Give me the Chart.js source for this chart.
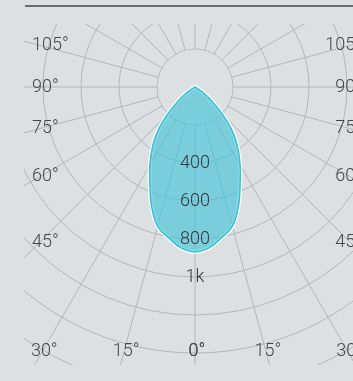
<!DOCTYPE html>
<html>
<head>
<meta charset="utf-8">
<script src="https://cdn.jsdelivr.net/npm/chart.js@4.4.1/dist/chart.umd.min.js"></script>
<style>
    html, body { margin: 0; padding: 0; background: #dde0e3; }
    body { width: 353px; height: 381px; position: relative; overflow: hidden; }
    .rule { position: absolute; left: 25px; top: 5px; width: 328px; height: 2px; background: #6c6d6f; }
    .plot { position: absolute; left: 24px; top: 24px; width: 342px; height: 341px; overflow: hidden; }
    .plot canvas { position: absolute; left: -171px; top: -279px; }
</style>
</head>
<body>
<div class="rule"></div>
<div class="plot"><canvas id="polarChart" width="684" height="684"></canvas></div>
<script>
// gamma angles (deg from nadir) and luminous intensity (cd), curve is symmetric
const gammaAngles = [0, 5, 10, 15, 20, 25, 30, 35, 40, 45, 50, 55, 60, 65, 70, 75, 80, 85, 90,
    95, 100, 105, 110, 115, 120, 125, 130, 135, 140, 145, 150, 155, 160, 165, 170, 175, 180];
const intensity = [868, 850, 805, 760, 668, 562, 475, 392, 308, 205, 115, 60, 12, 0, 0, 0, 0, 0, 0,
    0, 0, 0, 0, 0, 0, 0, 0, 0, 0, 0, 0, 0, 0, 0, 0, 0, 0];

// rings and their labels
const ringLabelValues = [400, 600, 800, 1000];
const ringLabels = ['400', '600', '800', '1k'];
// angle labels along the frame
const sideAngles = [105, 90, 75, 60, 45];
const bottomAngles = [30, 15, 0];

const BG = '#dde0e3';
const GRID = '#b3b6b9';

// radar runs clockwise from the top: right half 180..0, then left half 5..175
const spokeOrder = gammaAngles.slice().reverse().concat(gammaAngles.slice(1, -1));
const spokeValues = spokeOrder.map(g => intensity[gammaAngles.indexOf(g)]);

const polarDecor = {
    id: 'polarDecor',
    beforeDatasetsDraw(chart) {
        // no grid inside the 200 cd ring
        const r = chart.scales.r;
        const ctx = chart.ctx;
        const inner = r.getDistanceFromCenterForValue(200);
        ctx.save();
        ctx.beginPath();
        ctx.arc(r.xCenter, r.yCenter, inner - 0.5, 0, Math.PI * 2);
        ctx.fillStyle = BG;
        ctx.fill();
        ctx.restore();
    },
    afterDatasetsDraw(chart) {
        const r = chart.scales.r;
        const ctx = chart.ctx;
        const xc = r.xCenter, yc = r.yCenter;
        const dir = idx => {
            const p = r.getPointPosition(idx, 100);
            return { x: (p.x - xc) / 100, y: (p.y - yc) / 100 };
        };
        ctx.save();
        ctx.font = '300 18px Roboto, "Liberation Sans", sans-serif';
        ctx.textBaseline = 'middle';

        // ring values
        ctx.fillStyle = '#33383d';
        ctx.textAlign = 'center';
        ringLabelValues.forEach((v, i) => {
            ctx.fillText(ringLabels[i], xc, yc + r.getDistanceFromCenterForValue(v));
        });

        // side angle labels: left ones start at the frame, right ones end past the edge
        ctx.fillStyle = '#43474b';
        sideAngles.forEach(g => {
            const dl = dir(spokeOrder.lastIndexOf(g));
            ctx.textAlign = 'left';
            ctx.fillText(g + '°', xc - 163, yc + dl.y * 155 / Math.abs(dl.x));
            const dr = dir(spokeOrder.indexOf(g));
            ctx.textAlign = 'right';
            ctx.fillText(g + '°', xc + 167, yc + dr.y * 155 / Math.abs(dr.x));
        });

        // bottom angle labels
        ctx.textAlign = 'center';
        bottomAngles.forEach(g => {
            [spokeOrder.indexOf(g), spokeOrder.lastIndexOf(g)].forEach(idx => {
                const d = dir(idx);
                ctx.fillText(g + '°', xc + d.x * 264.5 / d.y + 2, yc + 264.5);
            });
        });
        ctx.restore();
    }
};

const ctx = document.getElementById('polarChart').getContext('2d');
new Chart(ctx, {
    type: 'radar',
    data: {
        labels: spokeOrder.map(g => g + '°'),
        datasets: [
            {
                data: spokeValues,
                backgroundColor: 'rgba(62, 193, 214, 0.62)',
                borderColor: '#38c0d3',
                borderWidth: 1.5,
                fill: true,
                pointRadius: 0,
                tension: 0.4,
                order: 1
            },
            {
                data: spokeValues,
                borderColor: '#ffffff',
                borderWidth: 4,
                fill: false,
                pointRadius: 0,
                tension: 0.4,
                order: 2
            }
        ]
    },
    options: {
        responsive: false,
        animation: false,
        events: [],
        layout: { padding: 0 },
        plugins: { legend: { display: false }, tooltip: { enabled: false } },
        scales: {
            r: {
                min: 0,
                max: 1800,
                startAngle: 0,
                ticks: { stepSize: 200, display: false },
                grid: { circular: true, color: GRID, lineWidth: 1 },
                angleLines: {
                    color: GRID,
                    lineWidth: c => (spokeOrder[c.index] % 15 === 0 ? 1 : 0)
                },
                pointLabels: { display: false }
            }
        }
    },
    plugins: [polarDecor]
});
</script>
</body>
</html>
